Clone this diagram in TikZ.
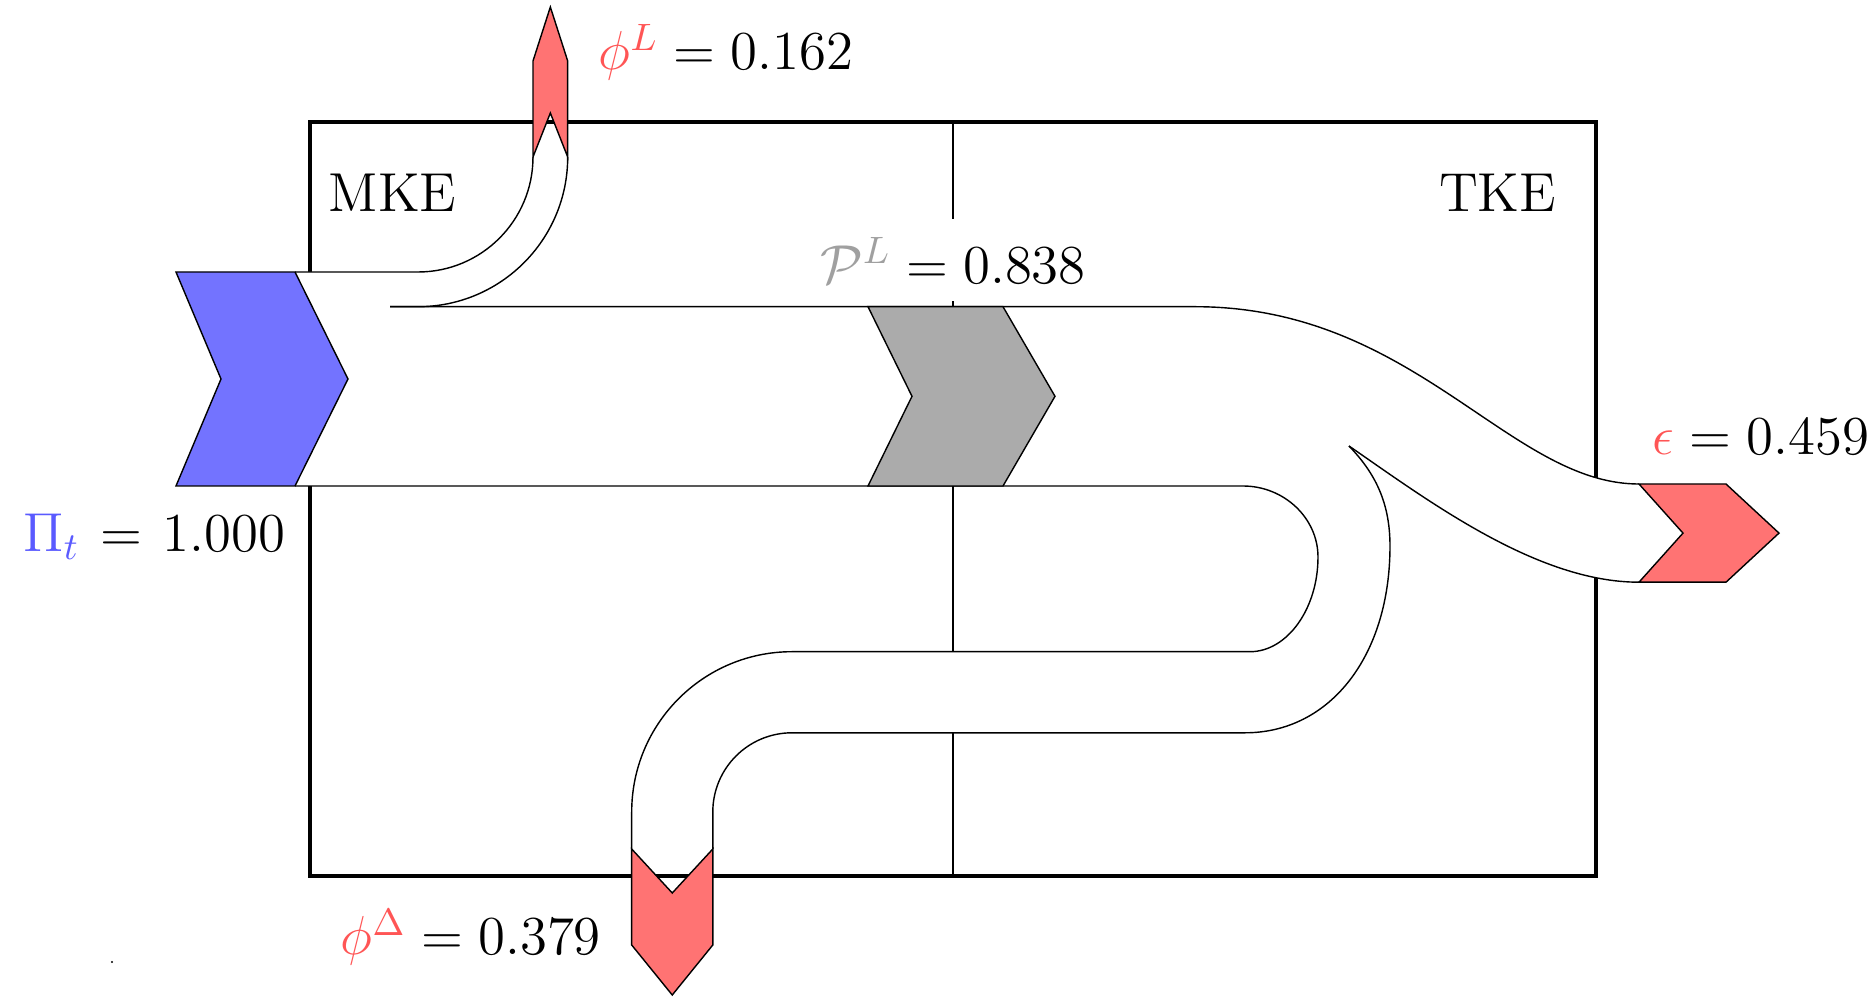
\documentclass[tikz,border=0pt]{standalone}
\usepackage{amsmath,amssymb}
\usepackage{xcolor}
\usepackage{tikz}
\definecolor{myblue}{RGB}{115,115,255}
\definecolor{myred}{RGB}{255,115,115}
\definecolor{mygray}{RGB}{171,171,171}
\definecolor{txtblue}{RGB}{90,90,255}
\definecolor{txtred}{RGB}{255,85,85}
\definecolor{txtgray}{RGB}{160,160,160}

\begin{document}
\begin{tikzpicture}[x=0.922cm, y=0.922cm,
    band/.style={fill=white, draw=none},
    flowline/.style={black, line width=0.37pt},
    chevron/.style={draw=black, line width=0.37pt, line join=miter},
    lbl/.style={font=\Large, inner sep=0pt},
]
    \useasboundingbox (0,0) rectangle (18.74,9.96);

    % Budget box: MKE (left) | TKE (right)
    \draw[line width=1.2pt] (3.10,1.20) rectangle (15.96,8.74);
    \draw[line width=0.46pt] (9.53,1.20) -- (9.53,8.74);

    % White bands (drawn over the box)
    \fill[band] (2.95,7.24) -- (4.18,7.24) arc[start angle=-90, end angle=0, radius=1.15]
        -- (5.677,8.39) arc[start angle=0, end angle=-90, radius=1.497] -- (2.95,6.893) -- cycle;
    \fill[band] (2.95,5.10) rectangle (11.95,6.893);
    \fill[band] (11.95,6.893) .. controls (14.15,6.893) and (15.09,5.12) .. (16.39,5.12)
        -- (16.39,4.138) .. controls (15.37,4.138) and (14.29,4.948) .. (13.49,5.50)
        -- (11.95,5.911) -- cycle;
    \fill[band] (11.95,5.911) -- (13.49,5.50) .. controls (13.74,5.24) and (13.90,4.95) .. (13.90,4.50)
        .. controls (13.90,3.40) and (13.30,2.632) .. (12.45,2.632) -- (7.92,2.632)
        arc[start angle=90, end angle=180, radius=0.792] -- (7.128,1.47) -- (6.317,1.47)
        -- (6.317,1.84) arc[start angle=180, end angle=90, radius=1.603] -- (12.50,3.443)
        .. controls (12.87,3.443) and (13.18,3.87) .. (13.18,4.39)
        .. controls (13.18,4.78) and (12.84,5.10) .. (12.43,5.10) -- (11.95,5.10) -- cycle;

    % Band edges
    \draw[flowline] (2.95,7.24) -- (4.18,7.24) arc[start angle=-90, end angle=0, radius=1.15];
    \draw[flowline] (3.90,6.893) -- (4.18,6.893) arc[start angle=-90, end angle=0, radius=1.497];
    \draw[flowline] (3.90,6.893) -- (11.95,6.893) .. controls (14.15,6.893) and (15.09,5.12) .. (16.39,5.12);
    \draw[flowline] (13.49,5.50) .. controls (14.29,4.948) and (15.37,4.138) .. (16.39,4.138);
    \draw[flowline] (2.95,5.10) -- (12.43,5.10) .. controls (12.84,5.10) and (13.18,4.78) .. (13.18,4.39)
        .. controls (13.18,3.87) and (12.87,3.443) .. (12.50,3.443) -- (7.92,3.443)
        arc[start angle=90, end angle=180, radius=1.603] -- (6.317,1.47);
    \draw[flowline] (13.49,5.50) .. controls (13.74,5.24) and (13.90,4.95) .. (13.90,4.50)
        .. controls (13.90,3.40) and (13.30,2.632) .. (12.45,2.632) -- (7.92,2.632)
        arc[start angle=90, end angle=180, radius=0.792] -- (7.128,1.47);

    % Chevrons
    \filldraw[chevron, fill=myblue] (1.76,7.24) -- (2.95,7.24) -- (3.48,6.17) -- (2.95,5.10)
        -- (1.76,5.10) -- (2.21,6.17) -- cycle;
    \filldraw[chevron, fill=mygray] (8.68,6.893) -- (10.03,6.893) -- (10.55,5.997) -- (10.03,5.10)
        -- (8.68,5.10) -- (9.12,5.997) -- cycle;
    \filldraw[chevron, fill=myred] (16.39,5.12) -- (17.26,5.12) -- (17.79,4.629) -- (17.26,4.138)
        -- (16.39,4.138) -- (16.83,4.629) -- cycle;
    \filldraw[chevron, fill=myred] (5.33,8.39) -- (5.33,9.35) -- (5.5035,9.89) -- (5.677,9.35)
        -- (5.677,8.39) -- (5.5035,8.83) -- cycle;
    \filldraw[chevron, fill=myred] (6.317,1.47) -- (6.317,0.51) -- (6.7225,0.01) -- (7.128,0.51)
        -- (7.128,1.47) -- (6.7225,1.03) -- cycle;

    % Labels
    \node[lbl, anchor=base west] (mke) at (3.28,7.84) {MKE};
    \node[lbl, anchor=base east] (tke) at (15.57,7.84) {TKE};
    \node[lbl, anchor=base west] (phiL) at (5.98,9.26) {$\textcolor{txtred}{\phi^L} = 0.162$};
    \node[lbl, anchor=base, fill=white, inner sep=0.166cm] (prodL) at (9.53,7.127) {$\textcolor{txtgray}{\mathcal{P}^L} = 0.838$};
    \node[lbl, anchor=base west] (eps) at (16.52,5.41) {$\textcolor{txtred}{\epsilon} = 0.459$};
    \node[lbl, anchor=base west] (pit) at (0.227,4.443) {$\textcolor{txtblue}{\Pi_t}$\hspace{0.38em}$=$\hspace{0.38em}$1.000$};
    \node[lbl, anchor=base east] (phiD) at (6.017,0.41) {$\textcolor{txtred}{\phi^\Delta} = 0.379$};

    \fill (1.12,0.34) circle (0.012);
\end{tikzpicture}
\end{document}
